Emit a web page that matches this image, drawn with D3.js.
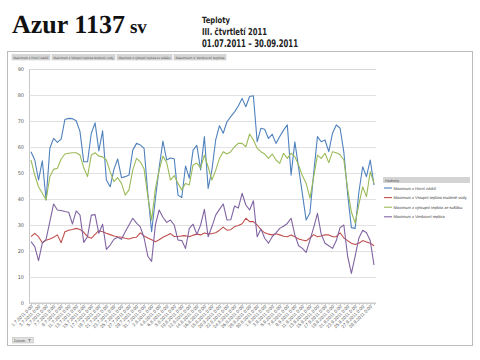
<!DOCTYPE html>
<html><head><meta charset="utf-8">
<script src="https://cdn.jsdelivr.net/npm/d3@7"></script>
<style>body{margin:0;background:#fff}svg{display:block}svg text{text-rendering:geometricPrecision}</style>
</head><body><svg id="c" width="480" height="360"></svg>
<script>
// ---- data ----
const dates = d3.timeDay.range(new Date(2011, 6, 1), new Date(2011, 9, 1));
const categories = dates.map(d3.timeFormat("%-d.%-m.%Y 0:00"));
const seriesNames = [
  "Maximum z Horní nádrž",
  "Maximum z Vstupní teplota studené vody",
  "Maximum z výstupní teplota ze sušáku",
  "Maximum z Venkovní teplota"
];
const horniNadrz = [58.2,55,47.3,54.7,39.6,59.5,63.3,61.8,63,70.6, 71,70.9,70.1,65.9,54.3,54.3,65.3,69.3,58.5,66.2,
  47.3,44.7,51.4,55.4,48.2,48.6,49.2,58.8,61.4,60.8, 59.5,42,27.4,40,52,62.3,55,55.8,55.5,41.5,
  40.6,52.7,48,58.8,60.6,51.2,64,44.1,51.2,62.7, 68.2,65.3,69.7,71.7,73.5,75.8,78.7,75.5,79.4,79.7,
  62,67.2,66.8,63.3,64.9,61.4,64,66.5,68.5,49.2, 62,52,42,31.9,34.6,50,64,62,62.7,58.2,
  65.3,68.5,67.2,58,42,29,28.7,42.8,52.4,48.6, 55,45.4];
const vstupniVoda = [25.5,26.8,25.5,23.2,24.1,24.6,25.3,26.2,23.2,27.4, 28,28.3,28.7,28.3,27.2,25.5,24.9,26.4,27.8,27.4,
  26.8,26.3,25.8,25.5,25.3,24.9,24.6,25.1,25.3,27, 25.8,25,24.3,23.6,24.3,25.3,26,26.7,25.6,25.6,
  25.8,25.9,25.5,26.1,26.5,26.2,26.9,26.6,26.7,27, 28,29.2,28,28.2,29.4,29.8,30.5,32.6,31.3,31.3,
  30,28.2,27,26.5,26.2,26.6,26.2,25.7,25.5,26.2, 25.5,24.6,24.2,23.9,25,26.3,25.5,25.8,26.2,26.2,
  25.5,25.5,27,25,24,23,22.5,23,24,23.5, 23,22];
const vystupniSusak = [55,49.2,44.7,42.2,39.6,48.6,51.4,51.8,55.4,57.3, 57.6,57.8,57.8,56.9,52,48.6,56.9,57.8,56.5,56.2,
  55,50.5,46.7,48.2,46,41.5,43.5,51.2,55.6,54.3, 51.5,41,31.9,44,51,56.5,54,47.3,49,46,
  43.5,46,45.4,53.1,53.8,51.9,56.9,52.3,47.3,51, 55.6,58.2,57.3,58.2,60.1,61.4,61.4,60.1,65,62.7,
  59.5,58.2,57.3,55.6,57.3,55,53.7,57.6,55.6,57.6, 56.3,53,49,46,40.3,48.5,56.9,55.6,57.6,54,
  58.2,57.8,57,55,44,35,30.7,38,44.7,40.9, 50.5,46];
const venkovni = [23.6,21.7,16.3,23,24.5,31.3,38.1,35.8,35.6,35.2, 34.9,30.4,35.4,33.8,23.3,25.5,33.8,34,26.8,30.3,
  20.6,22.3,24.5,25.3,24.5,27.4,30,32.6,30.7,29.3, 25,18,16,30,35.8,33,31,31.9,30,24.2,
  24,21,28.7,30.3,26.4,30,36,25.5,29.4,33.8, 36,38.1,31.9,32,37.3,36.5,42.2,37.7,35.8,39.3,
  25.5,28.5,24.9,23,25.5,27,28.7,29.5,30.6,32.6, 26.2,22,21,19.5,24.2,29,34.5,26.4,23,22,
  21,24,29,30,18,11.4,18,25,28,27, 24,14.6];
const seriesValues = [horniNadrz, vstupniVoda, vystupniSusak, venkovni];
const seriesColors = ["#4f81bd", "#c0504d", "#9bbb59", "#8064a2"];
const yTicks = [0,10,20,30,40,50,60,70,80,90];

// ---- drawing ----
const svg = d3.select("#c");
const plot = {l: 29, r: 376, t: 69, b: 303};

// title
const title = svg.append("text").attr("x", 12).attr("y", 33)
  .attr("font-family", "Liberation Serif").attr("font-weight", "bold").attr("fill", "#111");
title.append("tspan").attr("font-size", 26).text("Azur 1137");
title.append("tspan").attr("font-size", 19).attr("dx", 5).text("sv");

const info = [
  {t: "Teploty", y: 23, s: 8.5, w: 28},
  {t: "III. čtvrtletí 2011", y: 35, s: 9.5, w: 65},
  {t: "01.07.2011 – 30.09.2011", y: 46.5, s: 10.5, w: 96}
];
svg.selectAll("text.info").data(info).join("text").attr("class", "info")
  .attr("x", 202).attr("y", d => d.y).attr("font-size", d => d.s)
  .attr("font-family", "DejaVu Sans").attr("font-weight", "bold").attr("fill", "#222")
  .attr("textLength", d => d.w).attr("lengthAdjust", "spacingAndGlyphs").text(d => d.t);

// frame
svg.append("rect").attr("x", 7.5).attr("y", 51.5).attr("width", 465).attr("height", 294)
  .attr("fill", "#fff").attr("stroke", "#bcbcbc");

// field buttons
const btnW = [38, 63, 55, 52];
let bx = 12;
btnW.forEach((w, i) => {
  svg.append("rect").attr("x", bx).attr("y", 54.5).attr("width", w).attr("height", 5.5)
    .attr("fill", "#d6d6d6").attr("stroke", "#c4c4c4").attr("stroke-width", 0.5);
  svg.append("text").attr("x", bx + 1.5).attr("y", 58.6).attr("font-size", 3.4)
    .attr("font-family", "Liberation Sans").attr("fill", "#555")
    .attr("textLength", w - 3).attr("lengthAdjust", "spacingAndGlyphs").text(seriesNames[i]);
  bx += w + 2;
});

// scales
const x = d3.scalePoint().domain(categories).range([31, 374]);
const y = d3.scaleLinear().domain([0, 90]).range([plot.b, plot.t]);

// y axis + grid
const ya = svg.append("g").attr("transform", `translate(${plot.l},0)`)
  .call(d3.axisLeft(y).tickValues(yTicks).tickSize(-(plot.r - plot.l)).tickPadding(5));
ya.select(".domain").attr("stroke", "#c8c8c8");
ya.selectAll(".tick line").attr("stroke", "#d9d9d9").attr("stroke-width", 0.8);
ya.selectAll(".tick text").attr("font-size", 5).attr("font-family", "DejaVu Sans").attr("fill", "#595959");

// x axis
const xa = svg.append("g").attr("transform", `translate(0,${plot.b})`)
  .call(d3.axisBottom(x).tickValues(categories).tickSize(2)
    .tickFormat((d, i) => i % 2 === 0 ? d : ""));
xa.select(".domain").attr("stroke", "#c8c8c8").attr("d", `M${plot.l},0H${plot.r}`);
xa.selectAll(".tick line").attr("stroke", "#c8c8c8");
xa.selectAll(".tick text").attr("font-size", 4.6).attr("font-family", "Liberation Sans").attr("fill", "#595959")
  .attr("text-anchor", "end").attr("dy", 0).attr("y", 0)
  .attr("transform", "translate(1.5,4) rotate(-45)");

// lines
const line = d3.line().x((d, i) => x(categories[i])).y(d => y(d));
svg.selectAll("path.series").data(seriesValues).join("path").attr("class", "series")
  .attr("fill", "none").attr("stroke", (d, i) => seriesColors[i]).attr("stroke-width", 1.1)
  .attr("stroke-linejoin", "round").attr("d", line);

// legend
svg.append("rect").attr("x", 383).attr("y", 177).attr("width", 87).attr("height", 6)
  .attr("fill", "#d4d4d4");
svg.append("text").attr("x", 385).attr("y", 181.5).attr("font-size", 3.8)
  .attr("font-family", "Liberation Sans").attr("fill", "#555").text("Hodnoty");
const lg = svg.selectAll("g.lg").data(seriesNames).join("g").attr("class", "lg")
  .attr("transform", (d, i) => `translate(384,${188 + i * 9.6})`);
lg.append("line").attr("x1", 0).attr("x2", 8).attr("stroke", (d, i) => seriesColors[i]).attr("stroke-width", 1.1);
lg.append("text").attr("x", 9.5).attr("y", 1.5).attr("font-size", 4)
  .attr("font-family", "Liberation Sans").attr("fill", "#444").text(d => d);

// Datum button
svg.append("rect").attr("x", 12.5).attr("y", 337.5).attr("width", 21).attr("height", 5.5)
  .attr("fill", "#e0e0e0").attr("stroke", "#b8b8b8").attr("stroke-width", 0.5);
svg.append("text").attr("x", 14).attr("y", 341.6).attr("font-size", 3.8)
  .attr("font-family", "Liberation Sans").attr("fill", "#555").text("Datum");
svg.append("path").attr("d", "M28,339 l3,0 l-1.2,1.6 l0,1.6 l-0.6,0 l0,-1.6 z")
  .attr("fill", "#888");
</script></body></html>
